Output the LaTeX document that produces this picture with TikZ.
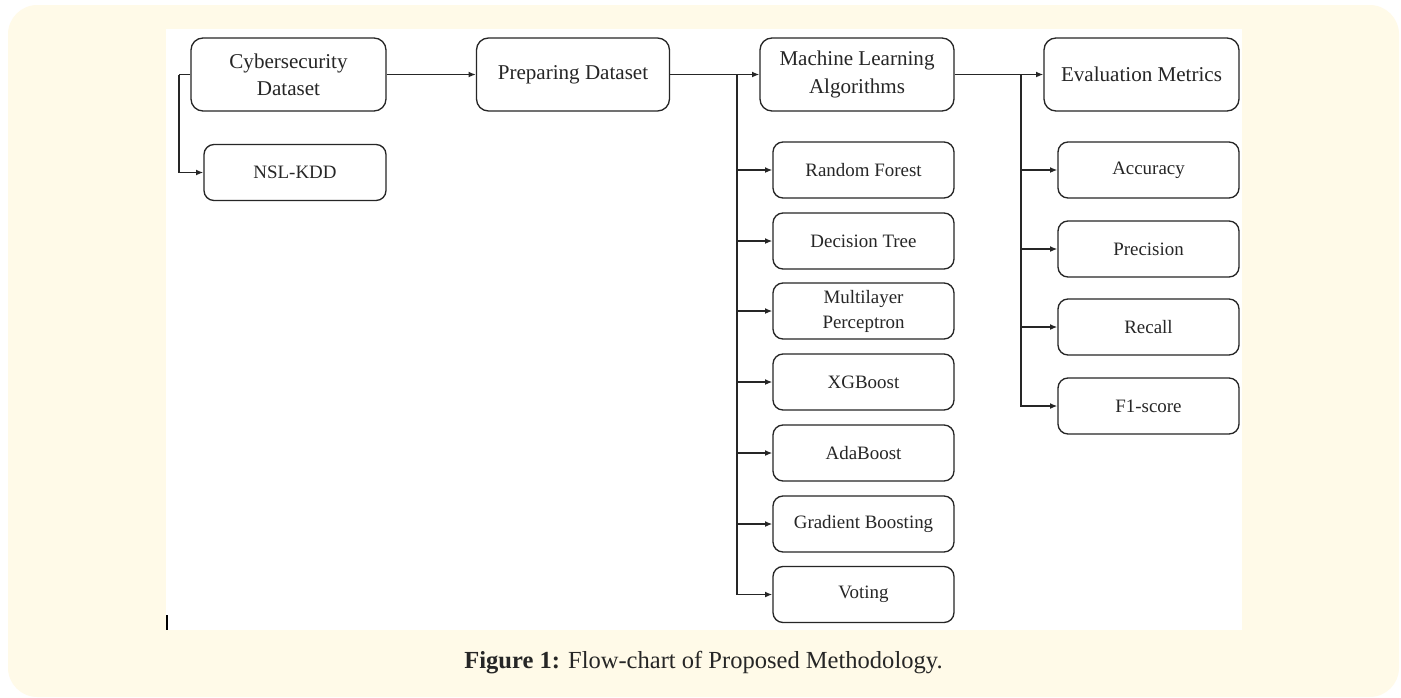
\documentclass[tikz,border=0pt]{standalone}
\usepackage{fontspec}
\setmainfont{Liberation Serif}
\usetikzlibrary{arrows.meta}
\definecolor{cream}{HTML}{FFFAE8}
\definecolor{ink}{HTML}{262626}
\begin{document}
\begin{tikzpicture}[x=0.75pt,y=-0.75pt,
  bigbox/.style={draw=ink, line width=1pt, rounded corners=9pt, fill=white, inner sep=0pt,
    minimum width=#1*0.75pt, minimum height=73*0.75pt, align=center, text=ink,
    font=\fontsize{15.8}{20.5}\selectfont},
  smallbox/.style={draw=ink, line width=1pt, rounded corners=7.5pt, fill=white, inner sep=0pt,
    minimum width=#1*0.75pt, minimum height=56*0.75pt, align=center, text=ink,
    font=\fontsize{14.2}{18.8}\selectfont},
  conn/.style={draw=ink, line width=1.1pt, -{Latex[length=5.5pt,width=4.5pt]}},
  plain/.style={draw=ink, line width=1.1pt}]
\useasboundingbox (0,0) rectangle (1401,697);
\fill[white] (0,0) rectangle (1401,697);
\fill[cream, rounded corners=22pt] (8,5) rectangle (1399,697);
\fill[white] (166,29) rectangle (1242,630);
\draw[black, line width=0.8pt] (167,615) -- (167,630);

% top row
\node[bigbox=195] (cyber) at (288.5,74.5) {Cybersecurity\\Dataset};
\node[smallbox=182] (nsl) at (295,172.5) {NSL-KDD};
\node[bigbox=193] (prep) at (573,74.5) {Preparing Dataset};
\node[bigbox=194] (ml) at (857,74.5) {Machine Learning\\Algorithms};
\node[bigbox=195] (eval) at (1141.5,74.5) {Evaluation Metrics};

% algorithms
\node[smallbox=181] (rf) at (863.5,170) {Random Forest};
\node[smallbox=181] (dt) at (863.5,241) {Decision Tree};
\node[smallbox=181] (mlp) at (863.5,311) {Multilayer\\Perceptron};
\node[smallbox=181] (xgb) at (863.5,382) {XGBoost};
\node[smallbox=181] (ada) at (863.5,453) {AdaBoost};
\node[smallbox=181] (gb) at (863.5,524) {Gradient Boosting};
\node[smallbox=181] (vote) at (863.5,594.5) {Voting};

% metrics
\node[smallbox=181] (acc) at (1148.5,170) {Accuracy};
\node[smallbox=181] (prec) at (1148.5,249) {Precision};
\node[smallbox=181] (rec) at (1148.5,327) {Recall};
\node[smallbox=181] (f1) at (1148.5,406) {F1-score};

% connectors
\coordinate (j0) at (179,74.5);
\coordinate (j1) at (737,74.5);
\coordinate (j2) at (1021,74.5);
\draw[plain] (cyber.west) -- (j0);
\draw[conn] (j0) |- (nsl.west);
\draw[conn] (cyber.east) -- (prep.west);
\draw[conn] (prep.east) -- (ml.west);
\draw[conn] (ml.east) -- (eval.west);
\foreach \n in {rf,dt,mlp,xgb,ada,gb,vote} \draw[conn] (j1) |- (\n.west);
\foreach \n in {acc,prec,rec,f1} \draw[conn] (j2) |- (\n.west);

% caption
\node[text=ink, font=\fontsize{18.4}{22}\selectfont] (cap) at (703.5,663)
  {\textbf{Figure 1:} Flow-chart of Proposed Methodology.};
\end{tikzpicture}
\end{document}
